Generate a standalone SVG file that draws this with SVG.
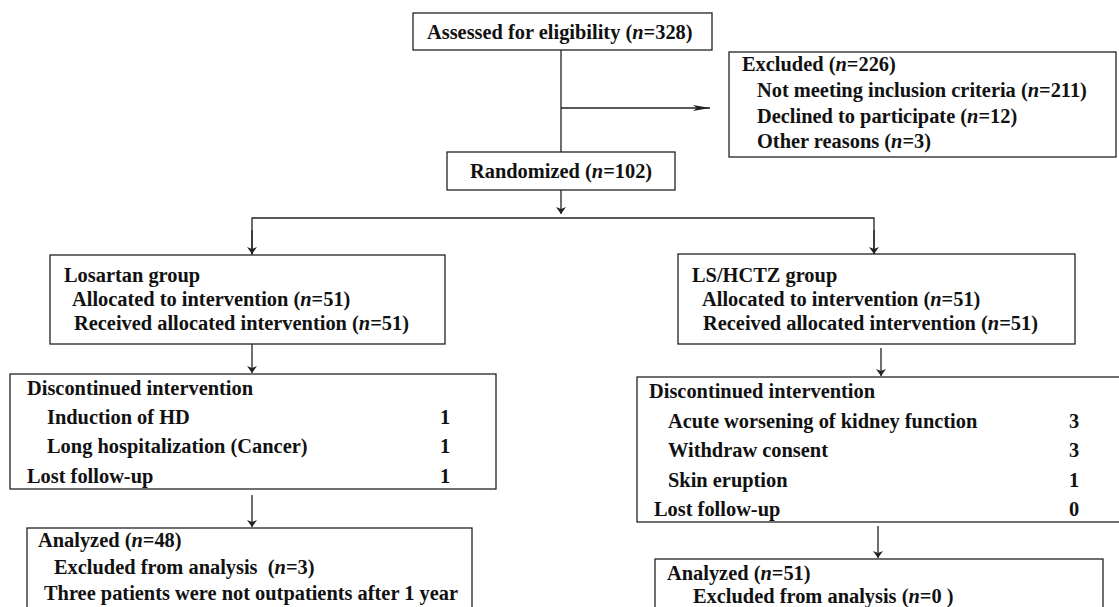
<svg xmlns="http://www.w3.org/2000/svg" width="1119" height="607" viewBox="0 0 1119 607">
<style>
.box{fill:none;stroke:#222;stroke-width:1.3}
.ln{fill:none;stroke:#222;stroke-width:1.3}
text{font-family:"Liberation Serif","Times New Roman",serif;font-weight:bold;font-size:20.4px;fill:#111;white-space:pre}
.n{font-style:italic}
.num{text-anchor:middle}
</style>
<defs>
<marker id="ad" markerUnits="userSpaceOnUse" markerWidth="10" markerHeight="8" refX="5" refY="7" orient="0" viewBox="0 0 10 8">
<path d="M0,0 L5,2 L10,0 L5,7 z" fill="#222"/>
</marker>
<marker id="ar" markerUnits="userSpaceOnUse" markerWidth="18" markerHeight="6" refX="17" refY="3" orient="0" viewBox="0 0 18 6">
<path d="M0,0 L17,3 L0,6 L4,3 z" fill="#222"/>
</marker>
</defs>
<g id="connectors">
<path class="ln" d="M561,50 V152"/>
<path class="ln" d="M561,108 H710" marker-end="url(#ar)"/>
<path class="ln" d="M561,190 V214" marker-end="url(#ad)"/>
<path class="ln" d="M252,255 V218 H874 V254"/>
<path class="ln" d="M252,230 V254" marker-end="url(#ad)"/>
<path class="ln" d="M874,230 V254" marker-end="url(#ad)"/>
<path class="ln" d="M252,344 V373" marker-end="url(#ad)"/>
<path class="ln" d="M881,348 V376" marker-end="url(#ad)"/>
<path class="ln" d="M252,495 V527" marker-end="url(#ad)"/>
<path class="ln" d="M878,526 V558" marker-end="url(#ad)"/>
</g>
<g id="assessed">
<rect class="box" x="413" y="13" width="299" height="37"/>
<text x="427" y="39">Assessed for eligibility (<tspan class="n">n</tspan>=328)</text>
</g>
<g id="excluded">
<rect class="box" x="729" y="52" width="387" height="105"/>
<text x="742" y="71">Excluded (<tspan class="n">n</tspan>=226)</text>
<text x="757" y="97">Not meeting inclusion criteria (<tspan class="n">n</tspan>=211)</text>
<text x="757" y="123">Declined to participate (<tspan class="n">n</tspan>=12)</text>
<text x="757" y="148">Other reasons (<tspan class="n">n</tspan>=3)</text>
</g>
<g id="randomized">
<rect class="box" x="447" y="152" width="228" height="38"/>
<text x="470" y="178">Randomized (<tspan class="n">n</tspan>=102)</text>
</g>
<g id="losartan">
<rect class="box" x="50" y="255" width="395" height="89"/>
<text x="64" y="282">Losartan group</text>
<text x="72" y="306">Allocated to intervention (<tspan class="n">n</tspan>=51)</text>
<text x="74" y="330">Received allocated intervention (<tspan class="n">n</tspan>=51)</text>
</g>
<g id="lshctz">
<rect class="box" x="678" y="254" width="397" height="90"/>
<text x="692" y="282">LS/HCTZ group</text>
<text x="702" y="306">Allocated to intervention (<tspan class="n">n</tspan>=51)</text>
<text x="703" y="330">Received allocated intervention (<tspan class="n">n</tspan>=51)</text>
</g>
<g id="disc-left">
<rect class="box" x="10" y="374" width="486" height="115"/>
<text x="27" y="395">Discontinued intervention</text>
<text x="47" y="424">Induction of HD</text>
<text x="47" y="453">Long hospitalization (Cancer)</text>
<text x="27" y="483">Lost follow-up</text>
<text class="num" x="445" y="424">1</text>
<text class="num" x="445" y="453">1</text>
<text class="num" x="445" y="483">1</text>
</g>
<g id="disc-right">
<rect class="box" x="637" y="377" width="495" height="145"/>
<text x="649" y="398">Discontinued intervention</text>
<text x="668" y="428">Acute worsening of kidney function</text>
<text x="668" y="457">Withdraw consent</text>
<text x="668" y="487">Skin eruption</text>
<text x="654" y="516">Lost follow-up</text>
<text class="num" x="1074" y="428">3</text>
<text class="num" x="1074" y="457">3</text>
<text class="num" x="1074" y="487">1</text>
<text class="num" x="1074" y="516">0</text>
</g>
<g id="analyzed-left">
<rect class="box" x="27" y="528" width="445" height="100"/>
<text x="38" y="547">Analyzed (<tspan class="n">n</tspan>=48)</text>
<text x="54" y="574">Excluded from analysis  (<tspan class="n">n</tspan>=3)</text>
<text x="44" y="600">Three patients were not outpatients after 1 year</text>
</g>
<g id="analyzed-right">
<rect class="box" x="655" y="559" width="448" height="70"/>
<text x="667" y="580">Analyzed (<tspan class="n">n</tspan>=51)</text>
<text x="693" y="603">Excluded from analysis (<tspan class="n">n</tspan>=0 )</text>
</g>
</svg>
